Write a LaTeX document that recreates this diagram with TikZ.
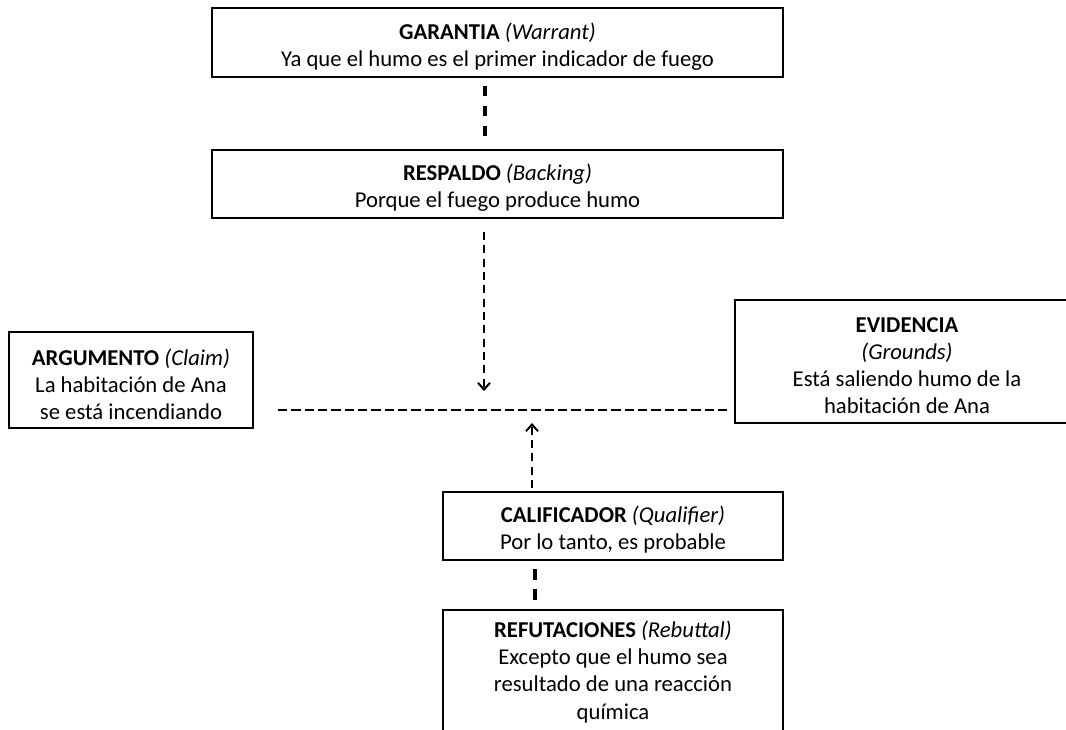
\documentclass[tikz,border=0pt]{standalone}
\usepackage{fontspec}
\setmainfont{Carlito}
\usetikzlibrary{arrows.meta}
\begin{document}
\begin{tikzpicture}[x=0.75pt,y=-0.75pt,
  box/.style={draw=black,line width=2.2pt,rectangle,inner sep=0pt},
  txt/.style={align=center,inner sep=0pt,font=\fontsize{17}{20.3}\selectfont},
  thickdash/.style={line width=2.3pt,dash pattern=on 7.5pt off 7.5pt},
  arrdash/.style={line width=1.5pt,dash pattern=on 6pt off 4pt,-{Straight Barb[length=5pt,width=9pt,line width=1.5pt]}},
  hdash/.style={line width=1.9pt,dash pattern=on 7pt off 3pt}]
\useasboundingbox (0,0) rectangle (1066,729);
\clip (0,0) rectangle (1066,729);
% boxes
\node[box,minimum width=571*0.75pt,minimum height=69*0.75pt] (gar) at (497.5,42.5) {};
\node[box,minimum width=571*0.75pt,minimum height=68*0.75pt] (resp) at (497.5,184) {};
\node[box,minimum width=244*0.75pt,minimum height=96*0.75pt] (arg) at (131,380) {};
\node[box,minimum width=343*0.75pt,minimum height=123*0.75pt] (evi) at (906.5,361.5) {};
\node[box,minimum width=340*0.75pt,minimum height=68*0.75pt] (cal) at (613,526) {};
\node[box,minimum width=340*0.75pt,minimum height=160*0.75pt] (ref) at (613,690) {};
% texts
\node[txt] (tgar) at (497.5,47) {\textbf{GARANTIA} \textit{(Warrant)}\\Ya que el humo es el primer indicador de fuego};
\node[txt] (tresp) at (497.5,188) {\textbf{RESPALDO} \textit{(Backing)}\\Porque el fuego produce humo};
\node[txt] (targ) at (131,384) {\textbf{ARGUMENTO} \textit{(Claim)}\\La habitación de Ana\\se está incendiando};
\node[txt] (tevi) at (907,366) {\textbf{EVIDENCIA}\\\textit{(Grounds)}\\Está saliendo humo de la\\habitación de Ana};
\node[txt] (tcal) at (613,530) {\textbf{CALIFICADOR} \textit{(Qualifier)}\\Por lo tanto, es probable};
\node[txt,anchor=north] (tref) at (613,621) {\textbf{REFUTACIONES} \textit{(Rebuttal)}\\Excepto que el humo sea\\resultado de una reacción\\química};
% connector coordinates
\coordinate (g1) at (485,86);
\coordinate (g2) at (485,137);
\coordinate (r1) at (484,232);
\coordinate (r2) at (484,391);
\coordinate (hl) at (278,410);
\coordinate (hr) at (729,410);
\coordinate (c1) at (532,488);
\coordinate (c2) at (532,423);
\coordinate (q1) at (535,569);
\coordinate (q2) at (535,601);
% connectors
\draw[thickdash] (g1) -- (g2);
\draw[arrdash] (r1) -- (r2);
\draw[hdash] (hl) -- (hr);
\draw[arrdash] (c1) -- (c2);
\draw[thickdash,dash pattern=on 8pt off 7pt] (q1) -- (q2);
\end{tikzpicture}
\end{document}
